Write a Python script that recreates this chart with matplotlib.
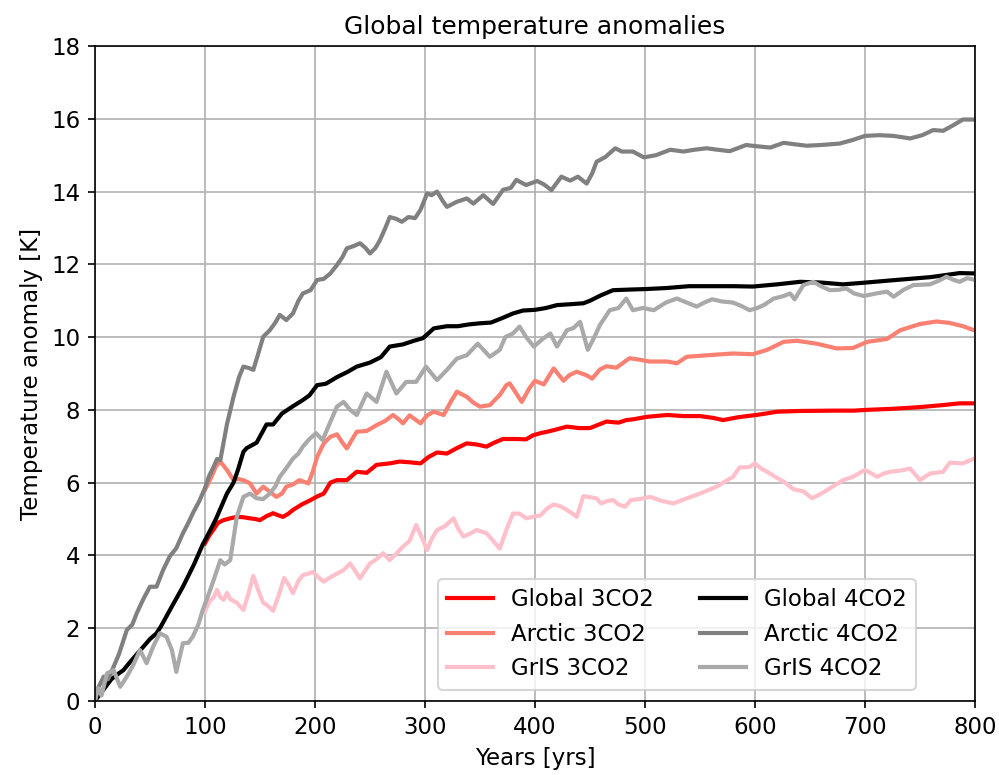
import matplotlib
matplotlib.use("Agg")
import matplotlib.pyplot as plt

# Global 4CO2 (black)
glob4_yrs = [0, 5, 10, 15, 20, 26, 30, 40, 50, 56, 60, 70, 80, 90, 98, 105, 110, 115, 120, 126,
             130, 135, 138, 147, 156, 162, 170, 180, 189, 195, 202, 210, 220, 230, 238, 250, 260,
             268, 280, 290, 298, 303, 308, 320, 330, 340, 350, 360, 370, 380, 389, 400, 410, 420,
             430, 444, 450, 460, 471, 480, 489, 500, 520, 540, 560, 580, 598, 620, 641, 660, 680,
             701, 720, 740, 760, 786, 800]
glob4_vals = [0, 0.2, 0.4, 0.6, 0.72, 0.85, 1.0, 1.35, 1.7, 1.86, 2.05, 2.6, 3.14, 3.75, 4.3, 4.7,
              5.0, 5.35, 5.7, 6.0, 6.35, 6.85, 6.95, 7.1, 7.6, 7.6, 7.9, 8.1, 8.27, 8.4, 8.68, 8.72,
              8.9, 9.05, 9.19, 9.3, 9.45, 9.74, 9.8, 9.9, 9.97, 10.1, 10.24, 10.3, 10.3, 10.35, 10.38,
              10.4, 10.52, 10.65, 10.73, 10.75, 10.8, 10.88, 10.9, 10.93, 11.0, 11.15, 11.29, 11.3,
              11.31, 11.32, 11.35, 11.4, 11.4, 11.4, 11.39, 11.45, 11.52, 11.5, 11.45, 11.5, 11.55,
              11.6, 11.65, 11.76, 11.75]

# Arctic 4CO2 (gray)
arc4_yrs = [0, 2, 8, 12, 17, 22, 29, 34, 38, 44, 50, 56, 62, 68, 74, 80, 85, 89, 95, 100, 104, 108,
            111, 114, 120, 126, 131, 135, 140, 144, 149, 153, 159, 164, 168, 174, 180, 185, 189,
            196, 202, 208, 214, 220, 225, 229, 235, 241, 246, 250, 255, 259, 264, 268, 274, 279,
            285, 291, 296, 302, 306, 311, 316, 320, 329, 338, 344, 353, 362, 371, 378, 383, 392,
            402, 408, 415, 424, 432, 439, 447, 452, 456, 464, 473, 479, 489, 499, 510, 523, 535,
            545, 556, 566, 577, 592, 600, 614, 626, 636, 647, 660, 677, 689, 700, 713, 726, 741,
            752, 762, 771, 780, 789, 800]
arc4_vals = [0.0, 0.3, 0.67, 0.6, 0.94, 1.3, 1.95, 2.1, 2.41, 2.8, 3.14, 3.14, 3.6, 3.97, 4.2, 4.61,
             4.9, 5.16, 5.5, 5.85, 6.2, 6.44, 6.65, 6.62, 7.6, 8.36, 8.9, 9.19, 9.15, 9.1, 9.6,
             10.01, 10.19, 10.4, 10.61, 10.47, 10.65, 11.0, 11.2, 11.29, 11.57, 11.6, 11.75, 11.98,
             12.2, 12.44, 12.5, 12.58, 12.45, 12.3, 12.45, 12.66, 13.0, 13.3, 13.25, 13.17, 13.3,
             13.27, 13.5, 13.95, 13.9, 14.0, 13.75, 13.58, 13.72, 13.81, 13.67, 13.9, 13.66, 14.05,
             14.1, 14.32, 14.18, 14.29, 14.2, 14.04, 14.41, 14.3, 14.41, 14.22, 14.5, 14.82, 14.95,
             15.19, 15.1, 15.1, 14.94, 15.0, 15.15, 15.1, 15.15, 15.19, 15.15, 15.11, 15.28, 15.25,
             15.21, 15.34, 15.3, 15.26, 15.28, 15.32, 15.42, 15.53, 15.55, 15.53, 15.46, 15.55,
             15.69, 15.67, 15.82, 15.98, 15.98]

# GrIS 4CO2 (darkgray)
gris4_yrs = [0, 3, 6, 11, 17, 23, 29, 35, 41, 47, 53, 59, 65, 70, 74, 80, 85, 89, 94, 98, 103, 108,
             114, 118, 123, 129, 135, 141, 147, 153, 159, 164, 168, 174, 180, 185, 189, 195, 201,
             207, 213, 220, 226, 232, 238, 247, 256, 265, 274, 283, 292, 301, 306, 311, 320, 329,
             338, 348, 359, 368, 373, 380, 386, 392, 399, 407, 414, 420, 429, 435, 441, 448, 454,
             459, 468, 476, 483, 489, 498, 508, 519, 529, 538, 547, 554, 561, 570, 580, 588, 595,
             602, 608, 617, 625, 632, 636, 644, 653, 660, 668, 676, 683, 690, 699, 710, 720, 726,
             735, 744, 759, 767, 774, 780, 786, 793, 800]
gris4_vals = [0.0, 0.35, 0.15, 0.76, 0.85, 0.39, 0.67, 1.0, 1.4, 1.04, 1.5, 1.86, 1.77, 1.4, 0.8,
              1.59, 1.6, 1.77, 2.1, 2.5, 2.9, 3.33, 3.87, 3.75, 3.87, 5.06, 5.61, 5.7, 5.57, 5.55,
              5.7, 5.9, 6.16, 6.4, 6.66, 6.8, 6.99, 7.2, 7.36, 7.17, 7.6, 8.09, 8.22, 8.0, 7.86,
              8.45, 8.22, 9.05, 8.45, 8.77, 8.77, 9.19, 9.0, 8.82, 9.1, 9.41, 9.5, 9.82, 9.46, 9.65,
              10.0, 10.1, 10.29, 10.0, 9.74, 9.95, 10.1, 9.74, 10.19, 10.25, 10.42, 9.65, 10.0,
              10.33, 10.74, 10.8, 11.06, 10.74, 10.8, 10.74, 10.95, 11.06, 10.95, 10.84, 10.95,
              11.04, 10.98, 10.95, 10.85, 10.74, 10.8, 10.88, 11.06, 11.12, 11.2, 11.04, 11.43,
              11.52, 11.4, 11.29, 11.3, 11.34, 11.2, 11.13, 11.2, 11.25, 11.11, 11.3, 11.43, 11.45,
              11.55, 11.66, 11.58, 11.52, 11.62, 11.57]

# Global 3CO2 (red), branches off at year 100
glob3_yrs = [100, 104, 108, 112, 117, 123, 129, 135, 141, 146, 150, 156, 162, 167, 171, 176, 180,
             188, 196, 202, 208, 214, 220, 229, 238, 247, 256, 268, 277, 286, 296, 303, 311, 320,
             329, 338, 347, 356, 363, 371, 383, 392, 398, 405, 414, 423, 429, 440, 450, 465, 476,
             483, 489, 502, 520, 535, 550, 562, 571, 585, 601, 610, 620, 640, 671, 690, 701, 725,
             747, 770, 786, 800]
glob3_vals = [4.33, 4.55, 4.72, 4.9, 4.97, 5.02, 5.06, 5.05, 5.02, 5.0, 4.97, 5.08, 5.16, 5.1, 5.06,
              5.15, 5.25, 5.4, 5.52, 5.62, 5.7, 6.0, 6.07, 6.07, 6.3, 6.27, 6.49, 6.53, 6.58, 6.56,
              6.53, 6.7, 6.83, 6.8, 6.95, 7.08, 7.05, 6.99, 7.1, 7.2, 7.2, 7.19, 7.3, 7.36, 7.42,
              7.49, 7.54, 7.5, 7.5, 7.68, 7.65, 7.72, 7.74, 7.81, 7.86, 7.83, 7.83, 7.78, 7.72, 7.8,
              7.86, 7.9, 7.95, 7.97, 7.98, 7.98, 8.0, 8.03, 8.07, 8.13, 8.18, 8.18]

# Arctic 3CO2 (salmon)
arc3_yrs = [100, 106, 110, 114, 120, 126, 130, 135, 141, 147, 153, 159, 165, 170, 174, 180, 186,
            194, 198, 202, 208, 214, 220, 225, 229, 234, 238, 247, 256, 264, 271, 277, 280, 286,
            296, 302, 308, 317, 323, 329, 338, 344, 350, 359, 368, 374, 377, 382, 388, 395, 400,
            408, 417, 422, 426, 431, 438, 447, 452, 459, 465, 474, 486, 495, 504, 520, 529, 538,
            547, 565, 580, 598, 611, 626, 638, 656, 674, 689, 702, 720, 732, 750, 765, 777, 789, 800]
arc3_vals = [5.8, 6.16, 6.45, 6.58, 6.35, 6.07, 6.1, 6.07, 5.98, 5.7, 5.89, 5.75, 5.61, 5.7, 5.89,
             5.95, 6.07, 5.98, 6.3, 6.71, 7.08, 7.26, 7.33, 7.1, 6.94, 7.2, 7.4, 7.42, 7.58, 7.7,
             7.86, 7.72, 7.63, 7.85, 7.63, 7.85, 7.95, 7.86, 8.2, 8.5, 8.36, 8.2, 8.09, 8.13, 8.41,
             8.68, 8.73, 8.5, 8.22, 8.6, 8.8, 8.7, 9.14, 8.95, 8.8, 8.95, 9.05, 8.95, 8.86, 9.11,
             9.2, 9.16, 9.42, 9.38, 9.33, 9.33, 9.28, 9.46, 9.48, 9.52, 9.55, 9.53, 9.65, 9.87,
             9.9, 9.82, 9.69, 9.7, 9.87, 9.95, 10.19, 10.36, 10.43, 10.39, 10.3, 10.18]

# GrIS 3CO2 (pink)
gris3_yrs = [100, 104, 108, 111, 114, 117, 120, 123, 129, 135, 140, 144, 149, 153, 158, 162, 167,
             172, 176, 180, 185, 189, 194, 198, 203, 208, 214, 220, 226, 232, 236, 241, 246, 250,
             256, 262, 268, 274, 280, 286, 292, 297, 302, 306, 311, 318, 326, 330, 335, 341, 347,
             352, 356, 362, 368, 374, 380, 386, 392, 398, 405, 411, 417, 423, 429, 434, 438, 444,
             450, 456, 460, 466, 471, 476, 482, 487, 495, 505, 515, 526, 532, 538, 550, 565, 580,
             586, 595, 600, 605, 611, 619, 626, 635, 644, 652, 662, 671, 680, 689, 700, 706, 711,
             717, 723, 732, 741, 745, 750, 759, 771, 777, 789, 800]
gris3_vals = [2.45, 2.73, 2.85, 3.05, 2.85, 2.78, 2.97, 2.8, 2.7, 2.5, 3.0, 3.44, 3.0, 2.7, 2.6,
              2.48, 2.9, 3.38, 3.2, 2.96, 3.3, 3.46, 3.5, 3.55, 3.4, 3.28, 3.4, 3.5, 3.6, 3.78, 3.6,
              3.37, 3.6, 3.78, 3.9, 4.06, 3.87, 4.05, 4.24, 4.4, 4.84, 4.5, 4.15, 4.45, 4.7, 4.8,
              5.02, 4.75, 4.52, 4.6, 4.7, 4.65, 4.61, 4.4, 4.19, 4.7, 5.15, 5.15, 5.02, 5.06, 5.1,
              5.29, 5.4, 5.35, 5.25, 5.15, 5.06, 5.63, 5.6, 5.57, 5.43, 5.5, 5.52, 5.4, 5.34, 5.52,
              5.55, 5.61, 5.5, 5.43, 5.5, 5.57, 5.7, 5.89, 6.16, 6.42, 6.43, 6.53, 6.4, 6.3, 6.15,
              6.03, 5.82, 5.76, 5.57, 5.73, 5.9, 6.07, 6.16, 6.35, 6.25, 6.16, 6.25, 6.3, 6.33,
              6.39, 6.25, 6.07, 6.25, 6.3, 6.55, 6.53, 6.67]

plt.rcParams['font.size'] = 11

fig, ax = plt.subplots(figsize=(6.66, 5.1667), dpi=150)
fig.subplots_adjust(left=0.095, right=0.976, top=0.9406, bottom=0.0955)

lw = 2
ax.plot(glob3_yrs, glob3_vals, color="red", lw=lw, label="Global 3CO2")
ax.plot(arc3_yrs, arc3_vals, color="salmon", lw=lw, label="Arctic 3CO2")
ax.plot(gris3_yrs, gris3_vals, color="pink", lw=lw, label="GrIS 3CO2")
ax.plot(glob4_yrs, glob4_vals, color="black", lw=lw, label="Global 4CO2")
ax.plot(arc4_yrs, arc4_vals, color="gray", lw=lw, label="Arctic 4CO2")
ax.plot(gris4_yrs, gris4_vals, color="darkgray", lw=lw, label="GrIS 4CO2")

ax.set_xlim(0, 800)
ax.set_ylim(0, 18)
ax.set_yticks(range(0, 19, 2))
ax.grid(True)
ax.set_title("Global temperature anomalies", fontsize=12)
ax.set_xlabel("Years [yrs]")
ax.set_ylabel("Temperature anomaly [K]")
ax.legend(ncol=2, loc="lower right", bbox_to_anchor=(0.946, 0.0))

fig.savefig("out.png", dpi=150)
